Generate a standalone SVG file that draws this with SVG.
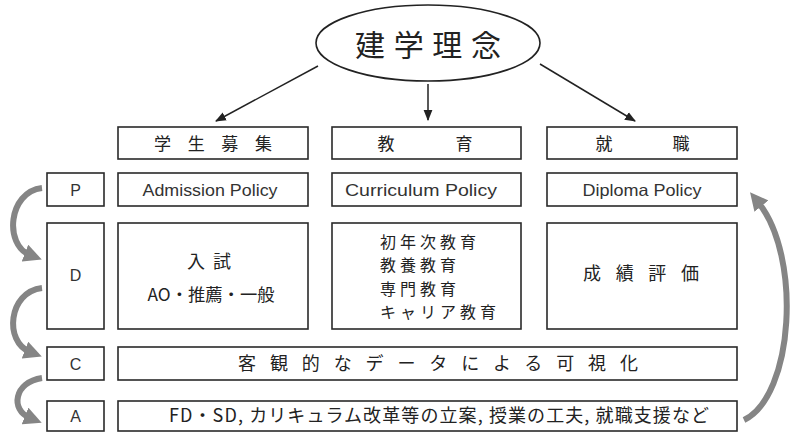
<svg xmlns="http://www.w3.org/2000/svg" width="792" height="432" viewBox="0 0 792 432">
<defs>
<style>
.box{fill:#fff;stroke:#2a2a2a;stroke-width:1.6}
.jp{font-family:"Noto Sans CJK JP","Noto Sans",sans-serif;fill:#222}
.en{font-family:"Liberation Sans",Arial,sans-serif;fill:#333}
.thin{stroke:#222;stroke-width:1.5;fill:none}
.thick{stroke:#858585;stroke-width:6;fill:none;stroke-linecap:butt}
.ky{font-size:16px;letter-spacing:4px}
</style>
<marker id="ah" viewBox="0 0 10 10" refX="9" refY="5" markerWidth="11" markerHeight="11" markerUnits="userSpaceOnUse" orient="auto">
<path d="M0,1 L10,5 L0,9 z" fill="#222"/>
</marker>
<marker id="big" viewBox="0 0 10 10" refX="3" refY="5" markerWidth="18" markerHeight="18" markerUnits="userSpaceOnUse" orient="auto">
<path d="M0,0 L10,5 L0,10 z" fill="#858585"/>
</marker>
</defs>
<rect width="792" height="432" fill="#fff"/>

<g id="connectors">
<line class="thin" x1="318" y1="66" x2="216" y2="121" marker-end="url(#ah)"/>
<line class="thin" x1="428" y1="84" x2="428" y2="120" marker-end="url(#ah)"/>
<line class="thin" x1="540" y1="64" x2="635" y2="121" marker-end="url(#ah)"/>
<path class="thick" d="M42 188 C8 192 4 245 30 255" marker-end="url(#big)"/>
<path class="thick" d="M42 288 C8 292 4 342 30 352" marker-end="url(#big)"/>
<path class="thick" d="M42 378 C14 382 10 410 30 418" marker-end="url(#big)"/>
<path class="thick" d="M744 420 C794 396 802 256 758 202" marker-end="url(#big)"/>
</g>

<g id="rinen">
<ellipse cx="428" cy="43" rx="112" ry="38" fill="#fff" stroke="#222" stroke-width="1.6"/>
<text class="jp" x="428" y="56" font-size="30" text-anchor="middle" textLength="146" lengthAdjust="spacing">建学理念</text>
</g>

<g id="h1"><rect class="box" x="118" y="127" width="190" height="32"/>
<text class="jp" x="213" y="150" font-size="17" text-anchor="middle" textLength="118" lengthAdjust="spacing">学生募集</text></g>
<g id="h2"><rect class="box" x="332" y="127" width="189" height="32"/>
<text class="jp" x="386" y="150" font-size="17" text-anchor="middle">教</text>
<text class="jp" x="464" y="150" font-size="17" text-anchor="middle">育</text></g>
<g id="h3"><rect class="box" x="547" y="127" width="190" height="32"/>
<text class="jp" x="604" y="150" font-size="17" text-anchor="middle">就</text>
<text class="jp" x="681" y="150" font-size="17" text-anchor="middle">職</text></g>

<g id="P"><rect class="box" x="47" y="173" width="57" height="33"/>
<text class="en" x="75.5" y="196" font-size="16" text-anchor="middle">P</text></g>
<g id="ap"><rect class="box" x="118" y="173" width="190" height="33"/>
<text class="en" x="210" y="196" font-size="16.5" text-anchor="middle" textLength="135" lengthAdjust="spacingAndGlyphs">Admission Policy</text></g>
<g id="cp"><rect class="box" x="332" y="173" width="189" height="33"/>
<text class="en" x="421" y="196" font-size="16.5" text-anchor="middle" textLength="152" lengthAdjust="spacingAndGlyphs">Curriculum Policy</text></g>
<g id="dp"><rect class="box" x="547" y="173" width="190" height="33"/>
<text class="en" x="642" y="196" font-size="16.5" text-anchor="middle" textLength="119" lengthAdjust="spacingAndGlyphs">Diploma Policy</text></g>

<g id="D"><rect class="box" x="47" y="223" width="57" height="106"/>
<text class="en" x="75.5" y="281" font-size="16" text-anchor="middle">D</text></g>
<g id="nyushi"><rect class="box" x="118" y="223" width="190" height="106"/>
<text class="jp" x="209" y="268" font-size="18" text-anchor="middle" textLength="44" lengthAdjust="spacing">入試</text>
<text class="jp" x="211" y="301" font-size="17" text-anchor="middle" textLength="127" lengthAdjust="spacingAndGlyphs">AO・推薦・一般</text></g>
<g id="kyoiku"><rect class="box" x="332" y="223" width="189" height="106"/>
<text class="jp ky" x="380" y="248">初年次教育</text>
<text class="jp ky" x="380" y="271.3">教養教育</text>
<text class="jp ky" x="380" y="294.6">専門教育</text>
<text class="jp ky" x="380" y="318">キャリア教育</text></g>
<g id="seiseki"><rect class="box" x="547" y="223" width="190" height="106"/>
<text class="jp" x="641" y="280" font-size="18" text-anchor="middle" textLength="116" lengthAdjust="spacing">成績評価</text></g>

<g id="C"><rect class="box" x="47" y="347" width="57" height="33"/>
<text class="en" x="75.5" y="370" font-size="16" text-anchor="middle">C</text></g>
<g id="kashika"><rect class="box" x="118" y="347" width="619" height="33"/>
<text class="jp" x="438" y="370" font-size="18" text-anchor="middle" textLength="400" lengthAdjust="spacing">客観的なデータによる可視化</text></g>

<g id="A"><rect class="box" x="47" y="401" width="57" height="30"/>
<text class="en" x="75.5" y="422" font-size="16" text-anchor="middle">A</text></g>
<g id="kaizen"><rect class="box" x="118" y="401" width="619" height="30"/>
<text class="jp" x="439" y="422" font-size="18" text-anchor="middle" textLength="540" lengthAdjust="spacing">FD・SD, カリキュラム改革等の立案, 授業の工夫, 就職支援など</text></g>
</svg>
